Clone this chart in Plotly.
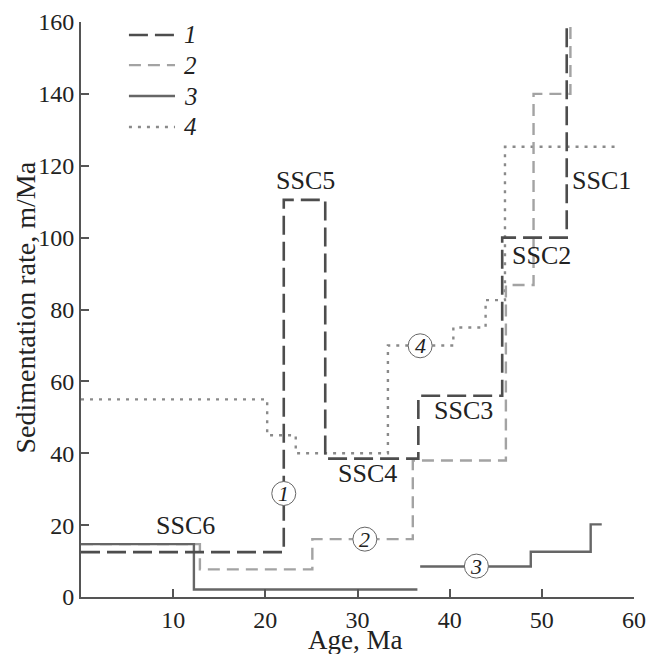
import plotly.graph_objects as go

# ---- data (step functions: age breakpoints and rate levels) ----
s1_age = [0, 22.0, 26.5, 36.6, 45.7, 52.7]
s1_rate = [12.5, 110.5, 38.5, 56.0, 100.0, 162.0]

s2_age = [0, 12.9, 25.1, 36.0, 46.1, 49.1, 53.1]
s2_rate = [14.7, 7.7, 16.1, 38.0, 86.8, 140.0, 162.0]

s3_age = [0, 12.25, 36.5, None, 36.8, 48.8, 55.3, 56.5]
s3_rate = [14.7, 2.1, 2.1, None, 8.5, 12.6, 20.2, 20.2]

s4_age = [0, 20.2, 23.3, 33.3, 40.4, 43.9, 46.0, 57.9]
s4_rate = [55.0, 45.0, 40.0, 70.0, 75.0, 82.6, 125.3, 125.3]

ssc_labels = ["SSC1", "SSC2", "SSC3", "SSC4", "SSC5", "SSC6"]
ssc_x = [56.5, 50.0, 41.5, 31.1, 24.4, 11.3]
ssc_y = [116, 95.1, 52.0, 34.4, 116, 20.0]

circ_labels = ["1", "2", "3", "4"]
circ_x = [22.0, 30.8, 42.9, 36.8]
circ_y = [28.8, 16.1, 8.6, 69.9]

legend_labels = ["1", "2", "3", "4"]
legend_y = [156.4, 148.0, 139.4, 130.8]

x_ticks = [10, 20, 30, 40, 50, 60]
y_ticks = [0, 20, 40, 60, 80, 100, 120, 140, 160]

FONT = "'Liberation Serif', 'DejaVu Serif', 'Times New Roman', serif"
styles = {
    "1": dict(color="#4d4d4d", width=2.6, dash="19px,7px"),
    "2": dict(color="#a3a3a3", width=2.4, dash="12px,7px"),
    "3": dict(color="#666666", width=2.4, dash="solid"),
    "4": dict(color="#8a8a8a", width=2.4, dash="3px,6px"),
}

fig = go.Figure()
order = [("4", s4_age, s4_rate), ("2", s2_age, s2_rate),
         ("3", s3_age, s3_rate), ("1", s1_age, s1_rate)]
for name, xs, ys in order:
    fig.add_trace(go.Scatter(x=xs, y=ys, mode="lines", line_shape="hv",
                             line=styles[name], connectgaps=False,
                             showlegend=False, hoverinfo="skip"))

shapes = []
annotations = []

# manual legend
for lab, ly in zip(legend_labels, legend_y):
    st = styles[lab]
    shapes.append(dict(type="line", xref="x", yref="y", x0=5.2, x1=10.2,
                       y0=ly, y1=ly, line=st))
    annotations.append(dict(x=11.0, y=ly, xref="x", yref="y", text="<i>%s</i>" % lab,
                            showarrow=False, xanchor="left", yanchor="middle",
                            font=dict(family=FONT, size=25, color="#222")))

# SSC labels
for t, x, y in zip(ssc_labels, ssc_x, ssc_y):
    annotations.append(dict(x=x, y=y, xref="x", yref="y", text=t, showarrow=False,
                            xanchor="center", yanchor="middle",
                            font=dict(family=FONT, size=26, color="#222")))

# circled numbers
for t, x, y in zip(circ_labels, circ_x, circ_y):
    shapes.append(dict(type="circle", xref="x", yref="y", xsizemode="pixel",
                       ysizemode="pixel", xanchor=x, yanchor=y,
                       x0=-12, x1=12, y0=-12, y1=12,
                       line=dict(color="#666", width=1), fillcolor="white",
                       layer="above"))
    annotations.append(dict(x=x, y=y, xref="x", yref="y", text="<i>%s</i>" % t,
                            showarrow=False, xanchor="center", yanchor="middle",
                            font=dict(family=FONT, size=22, color="#222")))

# axis titles
annotations.append(dict(x=0.5, y=0, xref="paper", yref="paper", text="Age, Ma",
                        showarrow=False, xanchor="center", yanchor="middle",
                        xshift=-3, yshift=-43,
                        font=dict(family=FONT, size=27, color="#222")))
annotations.append(dict(x=0, y=0.5, xref="paper", yref="paper",
                        text="Sedimentation rate, m/Ma", textangle=-90,
                        showarrow=False, xanchor="center", yanchor="middle",
                        xshift=-56, yshift=2,
                        font=dict(family=FONT, size=28, color="#222")))

axis_common = dict(ticks="inside", ticklen=8, tickwidth=2, tickcolor="#555",
                   showline=True, linecolor="#555", linewidth=2, showgrid=False,
                   zeroline=False, automargin=False,
                   tickfont=dict(family=FONT, size=24, color="#222"))

fig.update_layout(
    width=658, height=654,
    margin=dict(l=81, r=24, t=22, b=57, pad=0),
    paper_bgcolor="white", plot_bgcolor="white",
    font=dict(family=FONT, size=22, color="#222"),
    shapes=shapes, annotations=annotations,
    xaxis=dict(range=[0, 60], tickvals=x_ticks, **axis_common),
    yaxis=dict(range=[0, 160], tickvals=y_ticks, **axis_common),
)

fig.write_html("out.html", config={"displayModeBar": False})

# remove default page margin so the figure sits at the window's top-left
with open("out.html", encoding="utf-8") as f:
    html = f.read()
html = html.replace("<head>", "<head><style>html,body{margin:0;padding:0;overflow:hidden}</style>", 1)
with open("out.html", "w", encoding="utf-8") as f:
    f.write(html)
